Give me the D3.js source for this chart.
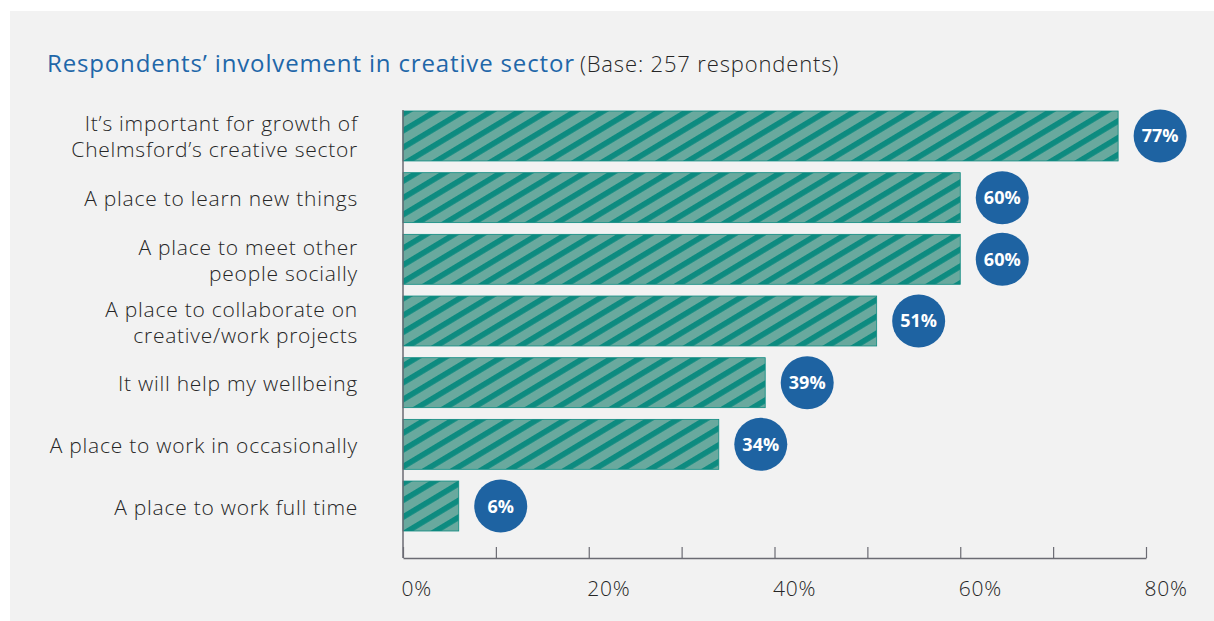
<!DOCTYPE html>
<html>
<head>
<meta charset="utf-8">
<script src="https://cdn.jsdelivr.net/npm/d3@7"></script>
<style>
  html, body { margin: 0; padding: 0; background: #ffffff; }
  svg { display: block; }
</style>
</head>
<body>
<svg id="chart" width="1214" height="621"></svg>
<script>
// Survey answers, top to bottom (each label split into its display lines)
const categories = [
  ["It’s important for growth of", "Chelmsford’s creative sector"],
  ["A place to learn new things"],
  ["A place to meet other", "people socially"],
  ["A place to collaborate on", "creative/work projects"],
  ["It will help my wellbeing"],
  ["A place to work in occasionally"],
  ["A place to work full time"]
];
const values = [77, 60, 60, 51, 39, 34, 6];
const tickValues = [0, 10, 20, 30, 40, 50, 60, 70, 80];
const tickLabels = ["0%", "", "20%", "", "40%", "", "60%", "", "80%"];
const titleMain = "Respondents’ involvement in creative sector";
const titleBase = "(Base: 257 respondents)";

const svg = d3.select("#chart");
const FONT = "'Open Sans', Lato, sans-serif";
const textColor = "#262626";
const blue = "#1e63a2";

// panel background
svg.append("rect")
  .attr("x", 10).attr("y", 11)
  .attr("width", 1204).attr("height", 610)
  .attr("fill", "#f2f2f2");

// diagonal stripe fill for the bars
const defs = svg.append("defs");
const pat = defs.append("pattern")
  .attr("id", "stripes")
  .attr("patternUnits", "userSpaceOnUse")
  .attr("width", 14.4).attr("height", 14.4)
  .attr("patternTransform", "rotate(59)");
pat.append("rect").attr("width", 14.4).attr("height", 14.4).attr("fill", "#69a99e");
pat.append("rect").attr("width", 5.6).attr("height", 14.4).attr("fill", "#0d8b80");

// title
const title = svg.append("text")
  .attr("x", 47).attr("y", 72)
  .attr("font-family", FONT);
title.append("tspan")
  .attr("font-size", 24).attr("fill", "#1f67a9")
  .attr("letter-spacing", 0.85)
  .text(titleMain);
title.append("tspan")
  .attr("font-size", 22).attr("font-weight", 300).attr("fill", textColor)
  .attr("letter-spacing", 0.85)
  .attr("dx", 5)
  .text(titleBase);

// scales
const x = d3.scaleLinear().domain([0, 80]).range([403, 1146]);
const y = d3.scaleBand()
  .domain(d3.range(categories.length))
  .range([111, 531])
  .paddingInner(0.19)
  .paddingOuter(0);
const axisY = 558;

// bars
svg.append("g").selectAll("rect")
  .data(values)
  .join("rect")
  .attr("x", x(0))
  .attr("y", (d, i) => y(i))
  .attr("width", d => x(d) - x(0))
  .attr("height", y.bandwidth())
  .attr("fill", "url(#stripes)")
  .attr("stroke", "#0d8b80")
  .attr("stroke-width", 0.8);

// value badges
const badges = svg.append("g").selectAll("g")
  .data(values)
  .join("g")
  .attr("transform", (d, i) => `translate(${x(d) + 42},${y(i) + y.bandwidth() / 2})`);
badges.append("circle")
  .attr("r", 26.5)
  .attr("fill", blue);
badges.append("text")
  .attr("text-anchor", "middle")
  .attr("dy", "0.36em")
  .attr("font-family", FONT)
  .attr("font-weight", 700)
  .attr("font-size", 18)
  .attr("fill", "#ffffff")
  .text(d => d + "%");

// category labels
const lineH = 26;
const labels = svg.append("g").selectAll("text")
  .data(categories)
  .join("text")
  .attr("text-anchor", "end")
  .attr("font-family", FONT)
  .attr("font-size", 21)
  .attr("font-weight", 300)
  .attr("letter-spacing", 0.75)
  .attr("fill", textColor)
  .attr("x", 358)
  .attr("y", (d, i) => y(i) + y.bandwidth() / 2);
labels.each(function (lines) {
  const t = d3.select(this);
  const start = -(lines.length - 1) * lineH / 2;
  lines.forEach((ln, k) => {
    t.append("tspan")
      .attr("x", 358)
      .attr("dy", k === 0 ? (start + 8.5) : lineH)
      .text(ln);
  });
});

// x axis
const xAxis = d3.axisBottom(x)
  .tickValues(tickValues)
  .tickSizeInner(-11)
  .tickSizeOuter(0)
  .tickFormat((d, i) => tickLabels[i]);
const gx = svg.append("g")
  .attr("transform", `translate(0,${axisY})`)
  .call(xAxis);
gx.select(".domain").attr("stroke", "#6b6b73").attr("stroke-width", 1.5);
gx.selectAll(".tick line").attr("stroke", "#6b6b73").attr("stroke-width", 1.2);
gx.selectAll(".tick text")
  .attr("font-family", FONT)
  .attr("font-size", 21)
  .attr("font-weight", 300)
  .attr("letter-spacing", 0.8)
  .attr("fill", textColor)
  .attr("text-anchor", "start")
  .attr("x", -2)
  .attr("y", 38)
  .attr("dy", 0);

// left baseline
svg.append("line")
  .attr("x1", x(0)).attr("x2", x(0))
  .attr("y1", 110).attr("y2", axisY)
  .attr("stroke", "#6b6b73")
  .attr("stroke-width", 1.5);
</script>
</body>
</html>
